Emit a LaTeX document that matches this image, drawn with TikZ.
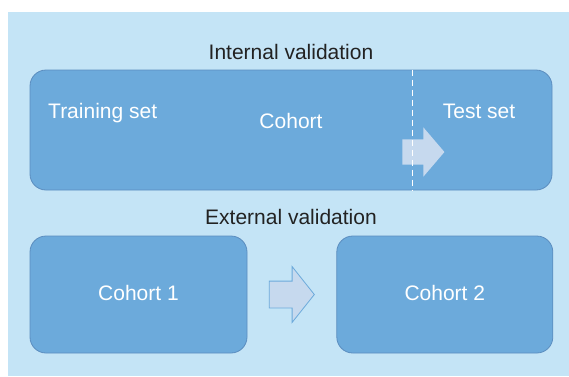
\documentclass[tikz,border=0pt]{standalone}
\usepackage{fontspec}
\setmainfont{Liberation Sans}
\usepackage{tikz}
\usetikzlibrary{positioning,shapes.arrows}
\definecolor{paleblue}{HTML}{C4E4F6}
\definecolor{boxblue}{HTML}{6CAADB}
\definecolor{boxedge}{HTML}{5B8DBF}
\definecolor{arrowfill}{HTML}{C6D9EE}
\definecolor{heading}{HTML}{222222}
\tikzset{cohortbox/.style={draw=boxedge, fill=boxblue, line width=0.8pt, rounded corners=16pt, inner sep=0pt}}
\tikzset{boxtext/.style={text=white, anchor=base, inner sep=0pt}}
\tikzset{headtext/.style={text=heading, anchor=base, inner sep=0pt}}
\tikzset{flowarrow/.style={single arrow, fill=arrowfill, inner xsep=0pt, single arrow head indent=0pt}}

\begin{document}
\begin{tikzpicture}[x=1pt,y=-1pt,font=\fontsize{21}{25}\selectfont]
  \useasboundingbox (0,0) rectangle (569,376);
  \fill[paleblue] (8,12) rectangle (569,376);

  % the single cohort, split into training and test part
  \node[cohortbox, minimum width=522pt, minimum height=120pt] (cohort) at (291,130) {};
  \node[headtext] (internal) at (291,59) {Internal validation};
  \node[boxtext, anchor=base west] (training) at (48,118) {Training set};
  \node[boxtext] (cohortlbl) at (291,128) {Cohort};
  \node[boxtext] (testset) at (479,118) {Test set};
  \node[flowarrow, inner ysep=12.5pt, minimum height=42pt, minimum width=49pt,
    single arrow head extend=12pt, single arrow tip angle=99] (split) at (418,152) {};
  \draw[white, line width=0.8pt, dash pattern=on 6pt off 4pt]
    (412,0 |- cohort.north) -- (412,0 |- cohort.south);

  % two separate cohorts
  \node[headtext] (external) at (291,224) {External validation};
  \node[cohortbox, minimum width=217pt, minimum height=117pt] (cohortOne) at (138.5,294.5) {};
  \node[cohortbox, minimum width=216pt, minimum height=117pt, right=89pt of cohortOne] (cohortTwo) {};
  \node[boxtext] (onelbl) at (cohortOne.center |- 0,300) {Cohort 1};
  \node[boxtext] (twolbl) at (cohortTwo.center |- 0,300) {Cohort 2};
  \node[flowarrow, draw=boxblue, line width=0.8pt, inner ysep=13pt, minimum height=45pt,
    minimum width=55pt, single arrow head extend=14.5pt, single arrow tip angle=103]
    (transfer) at (286.5,294.5) {};
\end{tikzpicture}
\end{document}
